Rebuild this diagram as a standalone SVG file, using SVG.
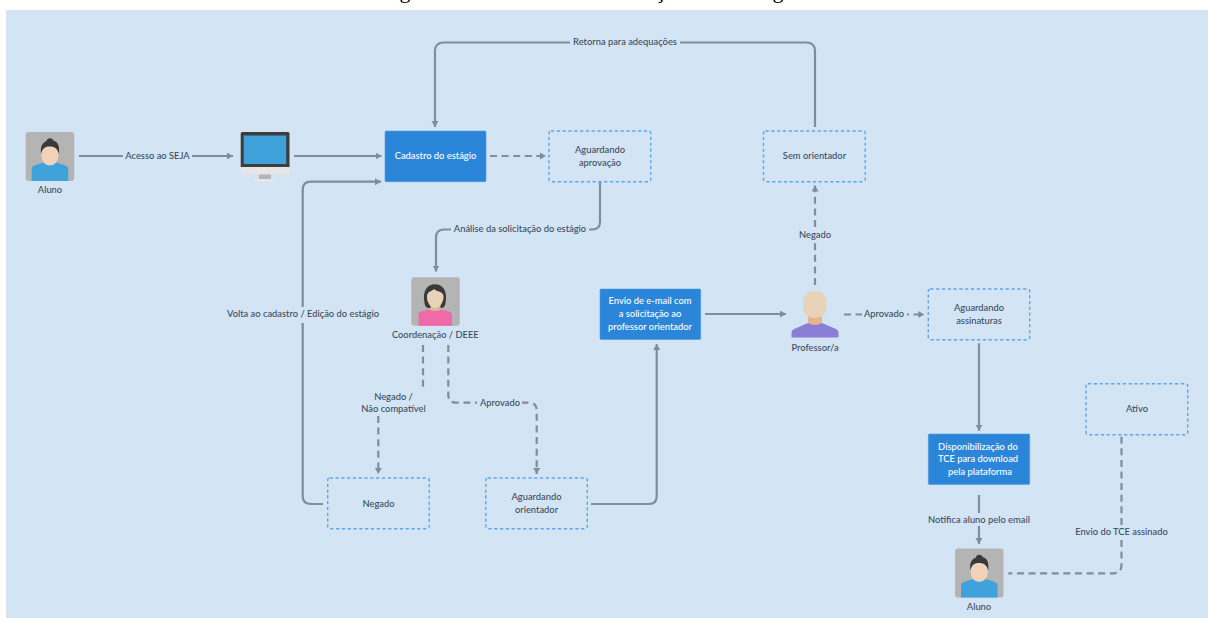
<svg xmlns="http://www.w3.org/2000/svg" width="1208" height="618" viewBox="0 0 1208 618">
<style>
text{font-family:"Lato","Roboto",sans-serif;font-size:9.35px;font-weight:500;fill:#3d4b5c;text-anchor:middle;dominant-baseline:central;letter-spacing:0;transform:translateY(-.6px)}
.w{fill:#fff}
.t{font-family:"Liberation Serif",serif;font-size:22px;font-weight:400;fill:#000;dominant-baseline:auto;letter-spacing:0;transform:none}
.s{fill:#2b86d9;stroke:#4f9ae0;stroke-width:.6}
.d{fill:none;stroke:#5ba6ec;stroke-width:1.4;stroke-dasharray:3.2 2.6}
.l{fill:none;stroke:#7f8d9c;stroke-width:2.2}
.a{marker-end:url(#h)}
.k{stroke-dasharray:7 4.600}
</style>
<defs>
<marker id="h" markerUnits="userSpaceOnUse" markerWidth="8" markerHeight="8" refX="6" refY="3.500" orient="auto"><path d="M0 0L6 3.500L0 7Z" fill="#7f8d9c"/></marker>
<g id="man">
<rect width="48.500" height="49" rx="3" fill="#b4b4b4"/>
<rect x="19" y="24" width="10.500" height="10" fill="#d8b594"/>
<path d="M6 49V37Q6 34 10 33L18 30.500Q24 35 30.500 30.500L38.500 33Q42.500 34 42.500 37V49Z" fill="#3fa2db"/>
<ellipse cx="24.200" cy="23" rx="8.700" ry="10.500" fill="#f2d3ba"/>
<path d="M15.500 22C14 13 18 10 21 9C21 5.500 27 5.500 27.500 8.500C32 9.500 34.500 14 33 22C32 16 28 14.500 24 14.500C20 14.500 16.500 16 15.500 22Z" fill="#3a3a3a"/>
</g>
</defs>
<rect width="1208" height="618" fill="#fff"/>
<rect x="6" y="10" width="1202" height="608" fill="#d3e5f5"/>
<text class="t" x="405" y="-2">g</text><text class="t" x="660" y="-2">ç</text><text class="t" x="778" y="-2">g</text>

<g id="connectors">
<path class="l a" d="M79 156H233"/>
<path class="l a" d="M294 156H381.500"/>
<path class="l k a" d="M490 156H546"/>
<path class="l a" d="M815 127V51Q815 42.500 806 42.500H444Q435 42.500 435 51V127"/>
<path class="l a" d="M323 504H311Q302.700 504 302.700 496V190Q302.700 181.700 311 181.700H381"/>
<path class="l a" d="M600 182V222Q600 229.500 592 229.500H444Q436 229.500 436 237.500V271.500"/>
<path class="l k" d="M423 345V388"/>
<path class="l k a" d="M378.300 416V474"/>
<path class="l k a" d="M448.300 345V395Q448.300 402.700 456 402.700H529Q536.700 402.700 536.700 410.500V474"/>
<path class="l a" d="M591 504H649Q656.700 504 656.700 496V344"/>
<path class="l a" d="M705 314H786"/>
<path class="l k a" d="M815 285V185.500"/>
<path class="l k a" d="M844 314.500H924.300"/>
<path class="l a" d="M979 343.300V430.700"/>
<path class="l" d="M979 495V513"/>
<path class="l a" d="M979 526V544"/>
<path class="l k" d="M1121.500 436.700V526"/>
<path class="l k" d="M1121.500 540V565Q1121.500 573.300 1113 573.300H1008.300"/>
</g>
<g id="connector-labels">
<rect x="123" y="150" width="69" height="12" fill="#d3e5f5"/><text x="157.500" y="156.500">Acesso ao SEJA</text>
<rect x="570" y="37" width="110" height="12" fill="#d3e5f5"/><text x="625" y="42.500">Retorna para adequações</text>
<rect x="451" y="224" width="138" height="12" fill="#d3e5f5"/><text x="520" y="229.500">Análise da solicitação do estágio</text>
<rect x="228" y="307" width="150" height="16" fill="#d3e5f5"/><text x="303" y="314.500">Volta ao cadastro / Edição do estágio</text>
<text x="393.500" y="397">Negado /</text><text x="393.500" y="409.500">Não compatível</text>
<rect x="477" y="397" width="45" height="12" fill="#d3e5f5"/><text x="500" y="403">Aprovado</text>
<rect x="797" y="228" width="36" height="15" fill="#d3e5f5"/><text x="815" y="235.500">Negado</text>
<rect x="862" y="308" width="45" height="13" fill="#d3e5f5"/><text x="884" y="314.500">Aprovado</text>
<text x="979" y="520">Notifica aluno pelo email</text>
<text x="1121.500" y="532.500">Envio do TCE assinado</text>
</g>

<g id="aluno"><use href="#man" x="25.700" y="132"/><text x="50" y="190.500">Aluno</text></g>
<g id="computador">
<rect x="240.700" y="132" width="48.800" height="36" rx="1.500" fill="#3d3d3d"/>
<rect x="243.700" y="135.500" width="42.500" height="28.500" fill="#3fa2db"/>
<path d="M240.700 167H289.500V172Q289.500 174.500 287 174.500H243Q240.700 174.500 240.700 172Z" fill="#e6e6e6"/>
<rect x="259" y="174.500" width="12" height="4.500" fill="#b4b4b4"/>
<rect x="254" y="179" width="22" height="3" rx="1.500" fill="#e6e6e6"/>
</g>
<g id="cadastro"><rect class="s" x="385" y="131" width="101" height="50.700" rx="1"/><text class="w" x="435.500" y="156.500">Cadastro do estágio</text></g>
<g id="aguardando-aprovacao"><rect class="d" x="549" y="131" width="101.700" height="50.700" rx="2"/><text x="600" y="150.500">Aguardando</text><text x="600" y="163.500">aprovação</text></g>
<g id="sem-orientador"><rect class="d" x="763.500" y="131" width="101.700" height="50.700" rx="2"/><text x="814.500" y="156.500">Sem orientador</text></g>
<g id="coordenacao">
<rect x="411.300" y="277.300" width="48.500" height="48.500" rx="3" fill="#b4b4b4"/>
<path d="M424.500 303C422 290 428 284.300 435 284.300C442 284.300 448 290 445.500 303Q445 308 441 308H429Q425 308 424.500 303Z" fill="#3a3a3a"/>
<rect x="430.500" y="303" width="10" height="9" fill="#d8b594"/>
<path d="M418.500 325.800V315Q418.500 312 421 311.500L429 309.500Q435 313 441.500 309.500L449 311.500Q452 312 452 315V325.800Z" fill="#ee6aa9"/>
<path d="M427 297C427 291 431 292 434 289C437 292 443 291 443.500 296C444 303 439 308 435 308C431 308 427 303 427 297Z" fill="#e8d3b8"/>
<text x="435.300" y="335">Coordenação / DEEE</text>
</g>
<g id="negado"><rect class="d" x="327.700" y="478" width="101.500" height="50.700" rx="2"/><text x="378.500" y="504">Negado</text></g>
<g id="aguardando-orientador"><rect class="d" x="485.800" y="478" width="101.500" height="50.700" rx="2"/><text x="536.500" y="497.500">Aguardando</text><text x="536.500" y="510.500">orientador</text></g>
<g id="envio"><rect class="s" x="600" y="289" width="100.700" height="50.500" rx="1"/><text class="w" x="650" y="301.500">Envio de e-mail com</text><text class="w" x="650" y="314.500">a solicitação ao</text><text class="w" x="650" y="327.500">professor orientador</text></g>
<g id="professor">
<rect x="808" y="312" width="14" height="13" fill="#e6b58c"/>
<path d="M791.500 337.500V333Q791.500 330 794 329L808 323Q815 327 822 323L836 329Q838.500 330 838.500 333V337.500Z" fill="#8a7fd6"/>
<rect x="803" y="291" width="23.500" height="27" rx="11" fill="#e8d3b8"/>
<text x="815" y="348">Professor/a</text>
</g>
<g id="aguardando-assinaturas"><rect class="d" x="928.300" y="289" width="101.400" height="50.700" rx="2"/><text x="979" y="308.500">Aguardando</text><text x="979" y="321">assinaturas</text></g>
<g id="disponibilizacao"><rect class="s" x="928.300" y="434" width="101.400" height="50.400" rx="1"/><text class="w" x="978" y="447">Disponibilização do</text><text class="w" x="978" y="459.500">TCE para download</text><text class="w" x="980" y="472.500">pela plataforma</text></g>
<g id="ativo"><rect class="d" x="1086" y="383.700" width="101.700" height="51" rx="2"/><text x="1137" y="409.500">Ativo</text></g>
<g id="aluno-2"><use href="#man" x="955" y="548.500"/><text x="979" y="607">Aluno</text></g>
</svg>
